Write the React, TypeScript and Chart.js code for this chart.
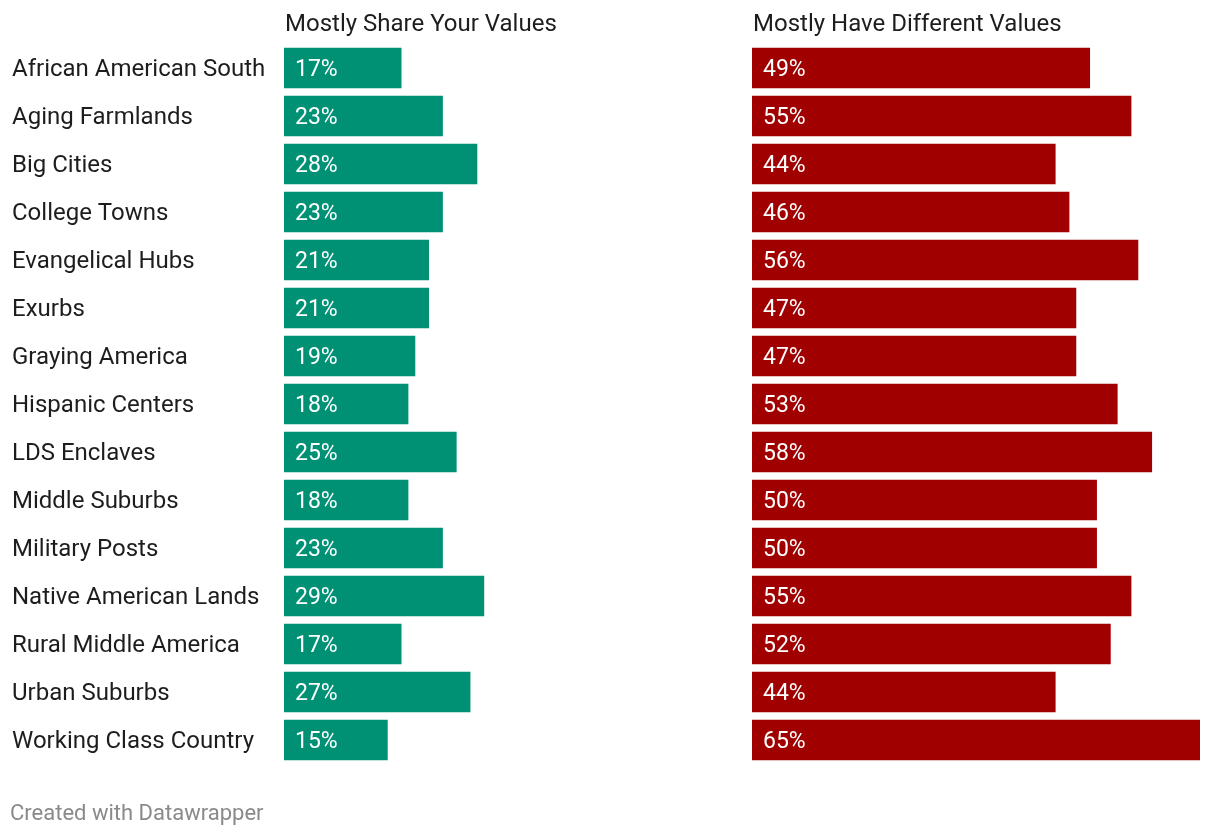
import React, { useEffect, useRef } from "react";
import { Chart, registerables } from "chart.js";

Chart.register(...registerables);

const categories = [
  "African American South",
  "Aging Farmlands",
  "Big Cities",
  "College Towns",
  "Evangelical Hubs",
  "Exurbs",
  "Graying America",
  "Hispanic Centers",
  "LDS Enclaves",
  "Middle Suburbs",
  "Military Posts",
  "Native American Lands",
  "Rural Middle America",
  "Urban Suburbs",
  "Working Class Country",
];
const shareValues = [17, 23, 28, 23, 21, 21, 19, 18, 25, 18, 23, 29, 17, 27, 15];
const differentValues = [49, 55, 44, 46, 56, 47, 47, 53, 58, 50, 50, 55, 52, 44, 65];
const panelTitles = ["Mostly Share Your Values", "Mostly Have Different Values"];
const footerText = "Created with Datawrapper";
const axisMax = 65;

const FONT = "Roboto, 'Noto Sans', sans-serif";
const W = 1220;
const H = 836;

const overlayPlugin = (title: string, footer: string | null) => ({
  id: "overlay",
  afterDatasetsDraw(chart: any) {
    const ctx = chart.ctx;
    const meta = chart.getDatasetMeta(0);
    const data = chart.data.datasets[0].data as number[];
    ctx.save();
    ctx.font = `23px ${FONT}`;
    ctx.fillStyle = "#ffffff";
    ctx.textAlign = "left";
    ctx.textBaseline = "middle";
    meta.data.forEach((bar: any, i: number) => {
      ctx.fillText(`${data[i]}%`, bar.base + 11, bar.y + 2);
    });
    ctx.font = `24px ${FONT}`;
    ctx.fillStyle = "#1d1d1d";
    ctx.fillText(title, chart.chartArea.left + 1, 25);
    if (footer) {
      ctx.font = `22px ${FONT}`;
      ctx.fillStyle = "#8a8a8a";
      ctx.fillText(footer, 10, 814);
    }
    ctx.restore();
  },
});

function makeConfig(values: number[], color: string, withLabels: boolean, title: string, footer: string | null, padLeft: number, padRight: number): any {
  const yScale: any = {
    display: withLabels,
    offset: true,
    grid: { display: false, drawTicks: false },
    border: { display: false },
    ticks: {
      crossAlign: "far",
      padding: 0,
      labelOffset: 2,
      color: "#1d1d1d",
      font: { family: FONT, size: 24 },
    },
  };
  if (withLabels) {
    yScale.afterFit = (axis: any) => {
      axis.width = 272;
    };
  }
  return {
    type: "bar",
    data: {
      labels: categories,
      datasets: [
        {
          data: values,
          backgroundColor: color,
          borderWidth: 0,
          barThickness: 40,
        },
      ],
    },
    options: {
      indexAxis: "y",
      responsive: false,
      animation: false,
      layout: { padding: { top: 44, bottom: H - 764, left: padLeft, right: padRight } },
      plugins: { legend: { display: false }, tooltip: { enabled: false }, title: { display: false } },
      scales: {
        x: { display: false, min: 0, max: axisMax },
        y: yScale,
      },
    },
    plugins: [overlayPlugin(title, footer)],
  };
}

export default function App() {
  const leftRef = useRef<HTMLCanvasElement>(null);
  const rightRef = useRef<HTMLCanvasElement>(null);

  useEffect(() => {
    const left = new Chart(leftRef.current!, makeConfig(shareValues, "#009175", true, panelTitles[0], footerText, 12, 8));
    const right = new Chart(rightRef.current!, makeConfig(differentValues, "#a00000", false, panelTitles[1], null, 12, 20));
    return () => {
      left.destroy();
      right.destroy();
    };
  }, []);

  return (
    <div style={{ position: "fixed", left: 0, top: 0, width: W, height: H, background: "#ffffff" }}>
      <canvas ref={leftRef} width={740} height={H} style={{ position: "absolute", left: 0, top: 0 }} />
      <canvas ref={rightRef} width={480} height={H} style={{ position: "absolute", left: 740, top: 0 }} />
    </div>
  );
}
